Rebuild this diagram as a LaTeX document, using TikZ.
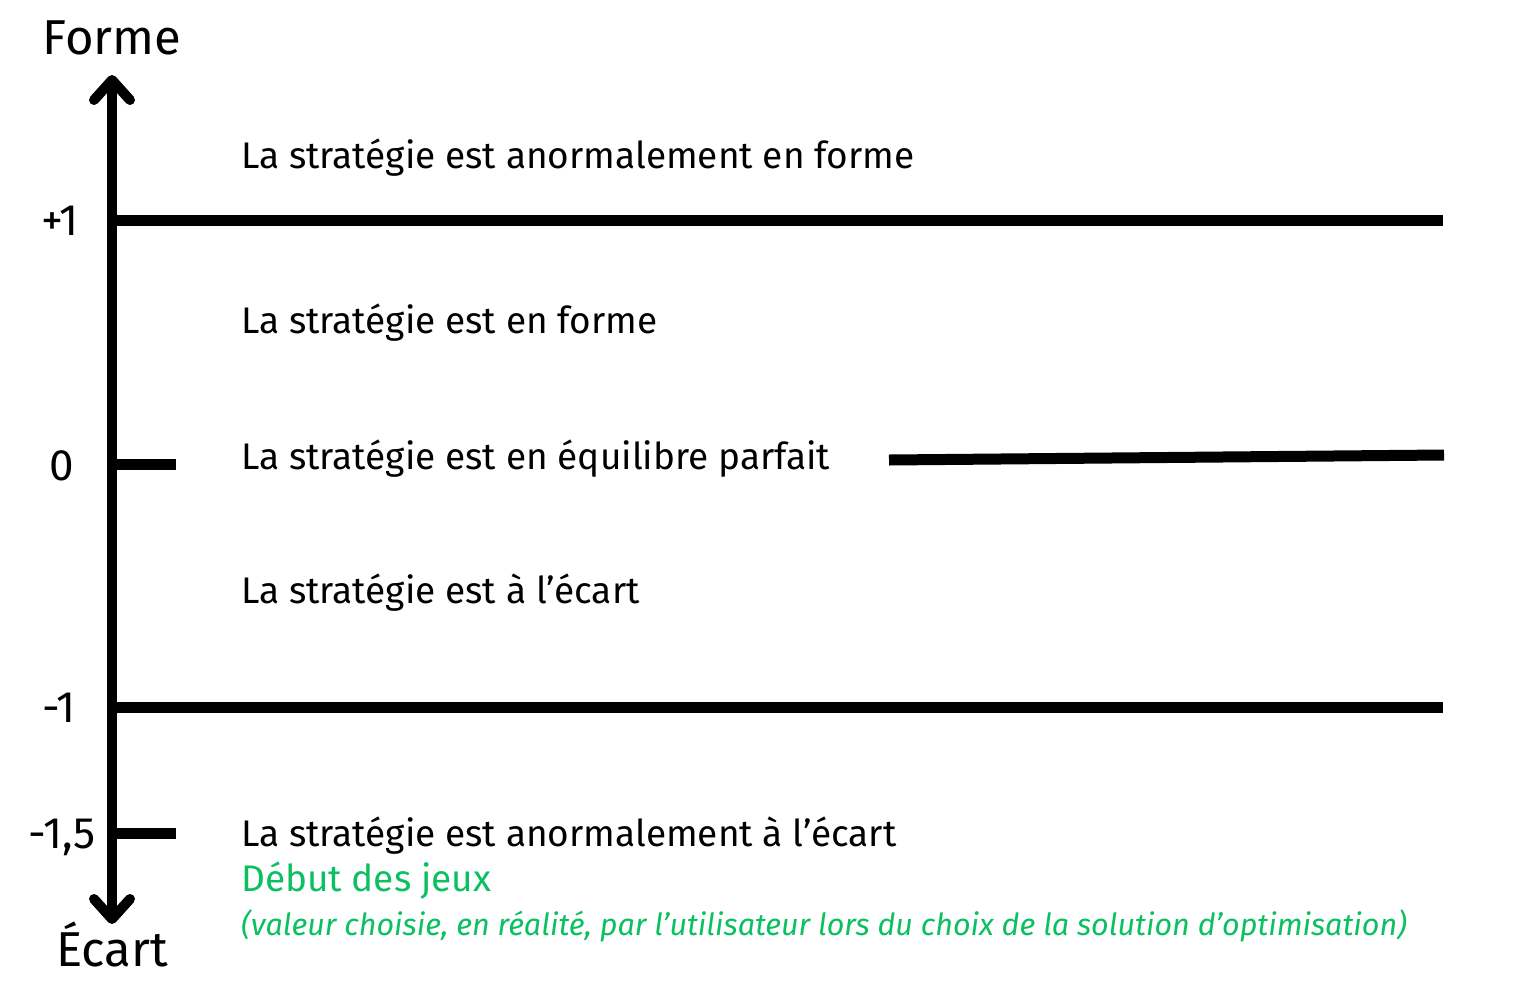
\documentclass[tikz,border=0pt]{standalone}
\usepackage{fontspec}
\setmainfont{Fira Sans}
\definecolor{vert}{RGB}{10,192,96}
\begin{document}
\begin{tikzpicture}[x=1pt,y=-1pt,
  axe/.style={line width=10pt},
  niveau/.style={line width=11pt},
  pointe/.style={line width=10pt,line cap=round,line join=round},
  txt/.style={anchor=base west,inner sep=0pt,font=\fontsize{37}{44}\selectfont},
  etiq/.style={anchor=base,inner sep=0pt,font=\fontsize{44}{50}\selectfont},
  titre/.style={anchor=base,inner sep=0pt,font=\fontsize{49}{56}\selectfont},
  note/.style={anchor=base west,inner sep=0pt,text=vert,font=\fontsize{30.5}{36}\selectfont\itshape}]
\useasboundingbox (0,0) rectangle (1537,983);
% axis
\coordinate (haut) at (112,80);
\coordinate (bas) at (112,919);
\draw[axe] (haut) -- (bas);
\draw[pointe] (94,100) -- (haut) -- (130,100);
\draw[pointe] (94,899) -- (bas) -- (130,899);
% levels
\coordinate (p1a) at (107,220);
\coordinate (p1b) at (1443,220);
\coordinate (m1a) at (107,707);
\coordinate (m1b) at (1443,707);
\coordinate (z0a) at (107,464);
\coordinate (z0b) at (176,464);
\coordinate (m15a) at (107,833);
\coordinate (m15b) at (176,833);
\coordinate (eqa) at (889,460);
\coordinate (eqb) at (1444,455);
\draw[niveau] (p1a) -- (p1b);
\draw[niveau] (m1a) -- (m1b);
\draw[niveau] (z0a) -- (z0b);
\draw[niveau] (m15a) -- (m15b);
\draw[niveau] (eqa) -- (eqb);
% axis labels
\node[titre] (forme) at (112,54) {Forme};
\node[titre] (ecart) at (112,966) {Écart};
\node[etiq] (lp1) at (60,235) {+1};
\node[etiq] (l0) at (62,480) {0};
\node[etiq] (lm1) at (59,722) {-1};
\node[etiq] (lm15) at (62,848) {-1,5};
% texts
\node[txt] (t1) at (241,168) {La stratégie est anormalement en forme};
\node[txt] (t2) at (241,333) {La stratégie est en forme};
\node[txt] (t3) at (241,469) {La stratégie est en équilibre parfait};
\node[txt] (t4) at (241,603) {La stratégie est à l’écart};
\node[txt] (t5) at (241,846) {La stratégie est anormalement à l’écart};
\node[txt,text=vert] (t6) at (241,891) {Début des jeux};
\node[note] (t7) at (241,935) {(valeur choisie, en réalité, par l’utilisateur lors du choix de la solution d’optimisation)};
\end{tikzpicture}
\end{document}
